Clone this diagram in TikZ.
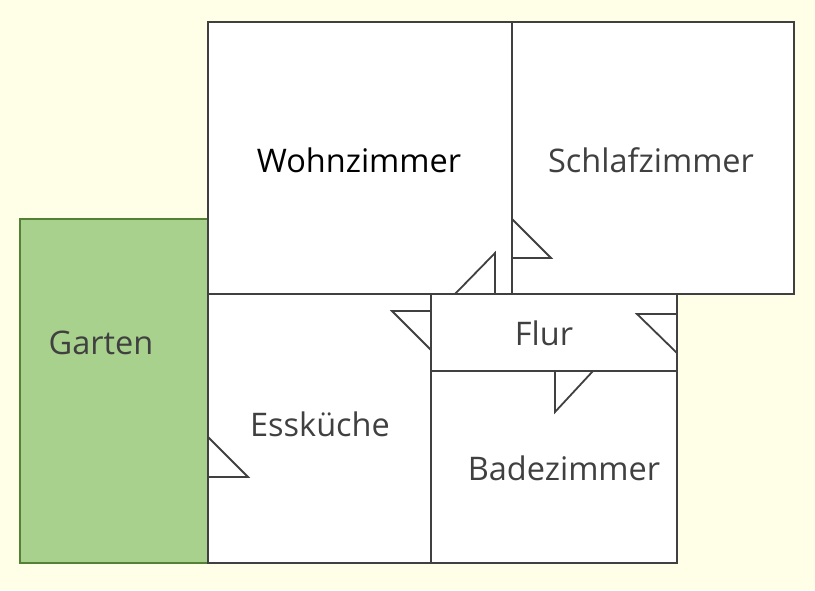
\documentclass[tikz,border=0pt]{standalone}
\usepackage{fontspec}
\setmainfont{Open Sans}
\usepackage{xcolor}
\usetikzlibrary{positioning}
\definecolor{wall}{HTML}{404040}
\definecolor{paper}{HTML}{FFFFE8}
\definecolor{lawn}{HTML}{A9D18E}
\definecolor{hedge}{HTML}{548235}
\tikzset{
  room/.style={draw=wall,line width=1.8pt,fill=white},
  door/.style={draw=wall,line width=1.8pt},
  label/.style={anchor=base,text=wall,font=\fontsize{32.5}{39}\selectfont,inner sep=0pt}
}

\begin{document}
\begin{tikzpicture}[x=1pt,y=-1pt]
            \useasboundingbox[fill=paper] (0,0) rectangle (815,590);

            \draw[room,draw=hedge,fill=lawn] (20,219) rectangle (208,563);
            \draw[room] (208,22) rectangle (512,294);
            \draw[room] (512,22) rectangle (794,294);
            \draw[room] (208,294) rectangle (431,563);
            \draw[room] (431,294) rectangle (677,371);
            \draw[room] (431,371) rectangle (677,563);

            \node[label,text=black] (wohn) at (359,172){Wohnzimmer};
            \node[label] (schlaf) at (651,172){Schlafzimmer};
            \node[label] (garten) at (101,354){Garten};
            \node[label] (flur) at (544,345){Flur};
            \node[label] (kueche) at (320,436){Essküche};
            \node[label] (bad) at (564,480){Badezimmer};

            \draw[door] (512,219) -- (551,258) -- (512,258);
            \draw[door] (495,294) -- (495,253) -- (455,294);
            \draw[door] (431,311) -- (392,311) -- (431,350);
            \draw[door] (677,314) -- (637,314) -- (677,353);
            \draw[door] (555,371) -- (555,412) -- (593,371);
            \draw[door] (208,437) -- (248,477) -- (208,477);
        \end{tikzpicture}
\end{document}
